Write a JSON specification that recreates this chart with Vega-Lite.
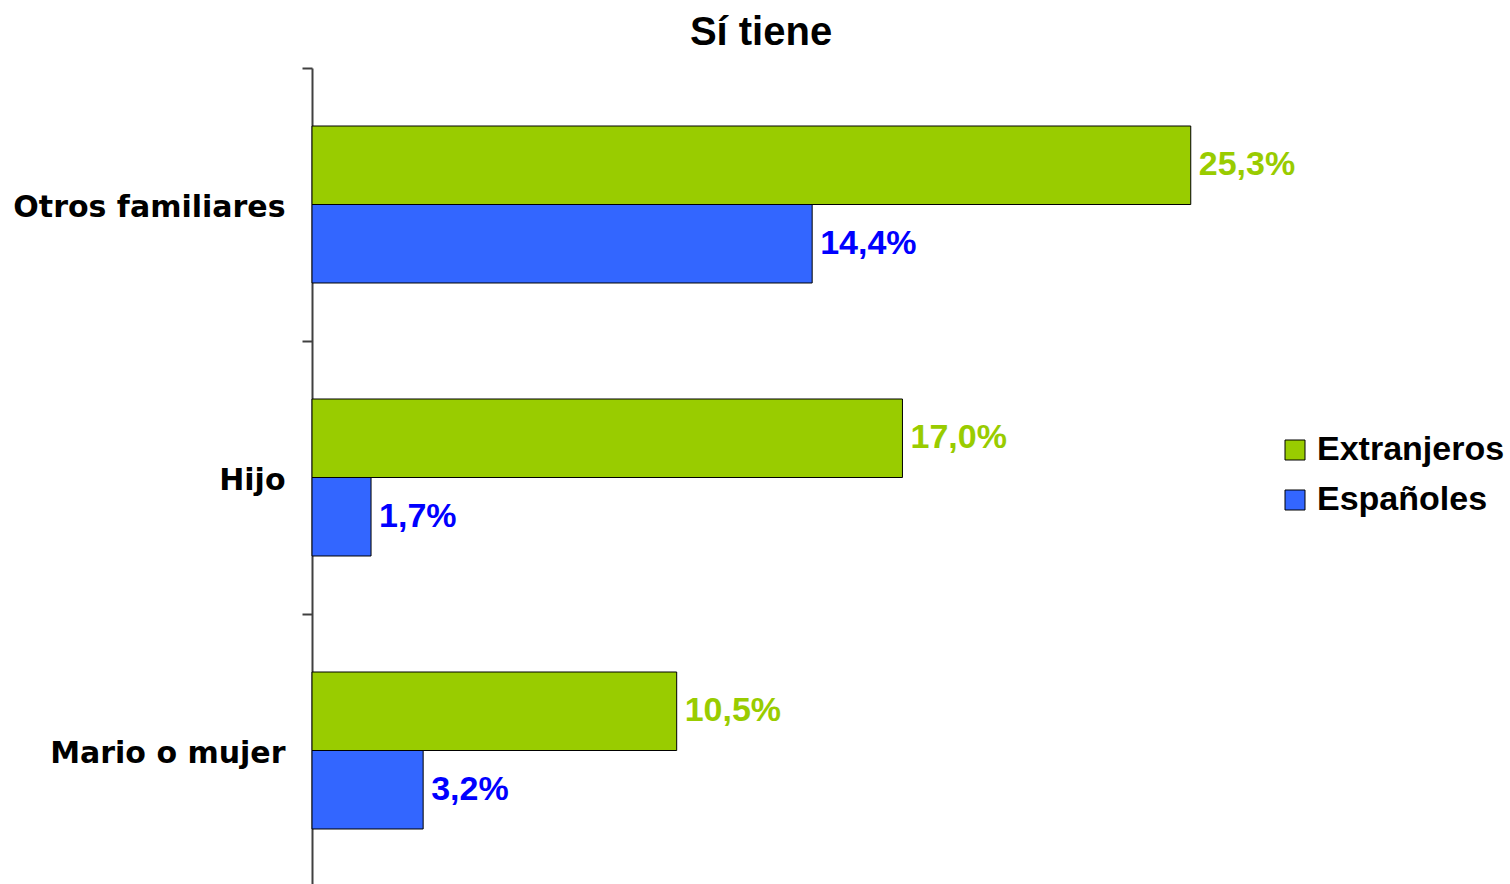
{
  "$schema": "https://vega.github.io/schema/vega-lite/v6.json",
  "width": 1042,
  "height": 819,
  "autosize": {"type": "none"},
  "padding": {"left": 312, "top": 68, "right": 156, "bottom": 0},
  "background": "white",
  "title": {"text": "Sí tiene", "font": "Liberation Sans", "fontSize": 40, "fontWeight": "bold", "color": "black", "anchor": "middle", "frame": "group", "dx": -72, "offset": 0},
  "data": {"values": [
    {"cat": "Otros familiares", "grupo": "Extranjeros", "pct": 25.3},
    {"cat": "Otros familiares", "grupo": "Españoles", "pct": 14.4},
    {"cat": "Hijo", "grupo": "Extranjeros", "pct": 17.0},
    {"cat": "Hijo", "grupo": "Españoles", "pct": 1.7},
    {"cat": "Mario o mujer", "grupo": "Extranjeros", "pct": 10.5},
    {"cat": "Mario o mujer", "grupo": "Españoles", "pct": 3.2}
  ]},
  "transform": [{"calculate": "replace(format(datum.pct, '.1f'), '.', ',') + '%'", "as": "label"}],
  "encoding": {
    "y": {"field": "cat", "type": "nominal", "sort": ["Otros familiares", "Hijo", "Mario o mujer"],
      "scale": {"paddingInner": 0, "paddingOuter": 0},
      "axis": {"title": null, "domainColor": "#404040", "domainWidth": 2, "tickColor": "#404040", "tickWidth": 2, "tickSize": 10, "tickBand": "extent",
        "labelFont": "DejaVu Sans", "labelFontSize": 30, "labelFontWeight": "bold", "labelColor": "black", "labelPadding": 17, "labelLimit": 400, "labelOffset": 3}},
    "yOffset": {"field": "grupo", "type": "nominal", "sort": ["Extranjeros", "Españoles"], "scale": {"paddingInner": 0, "paddingOuter": 0.739}},
    "x": {"field": "pct", "type": "quantitative", "scale": {"domain": [0, 30]}, "axis": null}
  },
  "layer": [
    {"mark": {"type": "bar", "stroke": "black", "strokeWidth": 1},
     "encoding": {"color": {"field": "grupo", "type": "nominal", "sort": ["Extranjeros", "Españoles"],
       "scale": {"domain": ["Extranjeros", "Españoles"], "range": ["#99CC00", "#3366FF"]},
       "legend": {"orient": "none", "legendX": 966, "legendY": 365, "title": null, "symbolType": "square", "symbolSize": 400, "symbolStrokeColor": "black", "symbolStrokeWidth": 1, "symbolOpacity": 1,
         "labelFont": "Liberation Sans", "labelFontSize": 34, "labelFontWeight": "bold", "labelColor": "black", "labelOffset": 5, "rowPadding": 16, "padding": 0, "labelLimit": 400}}}},
    {"mark": {"type": "text", "align": "left", "baseline": "middle", "dx": 8, "font": "Liberation Sans", "fontSize": 34, "fontWeight": "bold"},
     "encoding": {"text": {"field": "label"},
       "color": {"condition": {"test": "datum.grupo === 'Extranjeros'", "value": "#99CC00"}, "value": "#0000FF"}}}
  ],
  "config": {"view": {"stroke": null}}
}
